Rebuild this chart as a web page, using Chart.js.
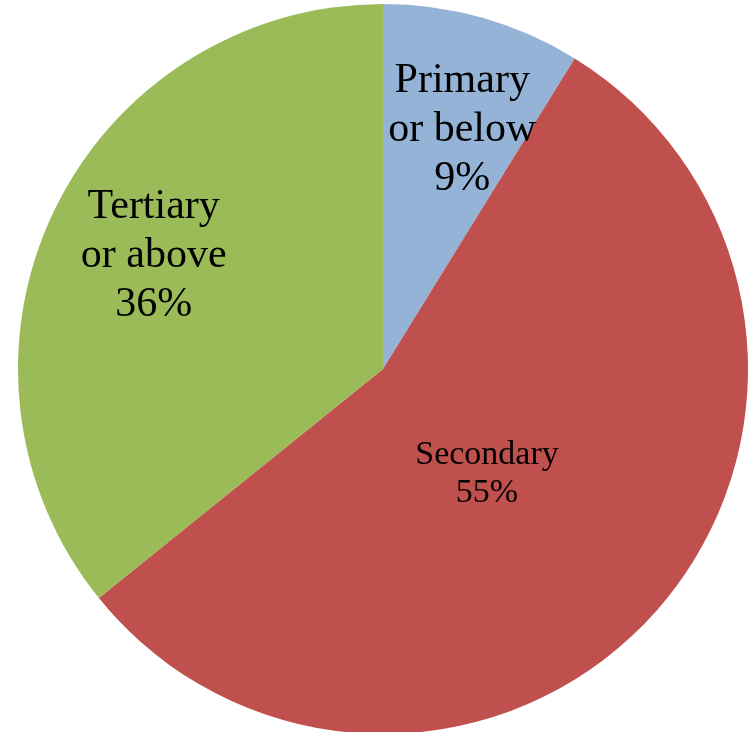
<!DOCTYPE html>
<html>
<head>
<meta charset="utf-8">
<script src="https://cdn.jsdelivr.net/npm/chart.js@4"></script>
<style>
  html, body { margin: 0; padding: 0; background: #fff; overflow: hidden; }
  body { width: 751px; height: 732px; position: relative; }
  #wrap { position: absolute; left: 18px; top: 4px; width: 730px; height: 730px; }
</style>
</head>
<body>
<div id="wrap"><canvas id="pie"></canvas></div>
<script>
// slice data, clockwise from 12 o'clock
const categories = ["Primary or below", "Secondary", "Tertiary or above"];
const labelLines = [["Primary", "or below"], ["Secondary"], ["Tertiary", "or above"]];
const shares = [8.8, 55.4, 35.8];
const colors = ["#95B3D7", "#C0504D", "#9BBB59"];

// label placement: fraction of radius, angle nudge (deg), font size, line height
const labelStyle = [
  { frac: 0.69, nudge: 2.5, size: 42, lh: 49 },
  { frac: 0.405, nudge: 3.9, size: 34, lh: 38 },
  { frac: 0.70, nudge: 0.6, size: 42, lh: 49 },
];

const sliceLabels = {
  id: "sliceLabels",
  afterDatasetsDraw(chart) {
    const ctx = chart.ctx;
    const meta = chart.getDatasetMeta(0);
    const total = shares.reduce((a, b) => a + b, 0);
    meta.data.forEach((arc, i) => {
      const p = arc.getProps(["x", "y", "startAngle", "endAngle", "outerRadius"], true);
      const st = labelStyle[i];
      const mid = (p.startAngle + p.endAngle) / 2 + st.nudge * Math.PI / 180;
      const r = p.outerRadius * st.frac;
      const cx = p.x + Math.cos(mid) * r;
      const cy = p.y + Math.sin(mid) * r;
      const lines = labelLines[i].concat([Math.round(shares[i] / total * 100) + "%"]);
      ctx.save();
      ctx.fillStyle = "#000";
      ctx.font = st.size + "px 'Liberation Serif', 'Times New Roman', serif";
      ctx.textAlign = "center";
      ctx.textBaseline = "middle";
      const top = cy - (lines.length - 1) * st.lh / 2;
      lines.forEach((t, k) => ctx.fillText(t, cx, top + k * st.lh));
      ctx.restore();
    });
  }
};

new Chart(document.getElementById("pie").getContext("2d"), {
  type: "pie",
  data: {
    labels: categories,
    datasets: [{
      data: shares,
      backgroundColor: colors,
      borderWidth: 0,
    }],
  },
  options: {
    responsive: true,
    maintainAspectRatio: false,
    animation: false,
    layout: { padding: 0 },
    plugins: {
      legend: { display: false },
      tooltip: { enabled: false },
    },
  },
  plugins: [sliceLabels],
});
</script>
</body>
</html>
